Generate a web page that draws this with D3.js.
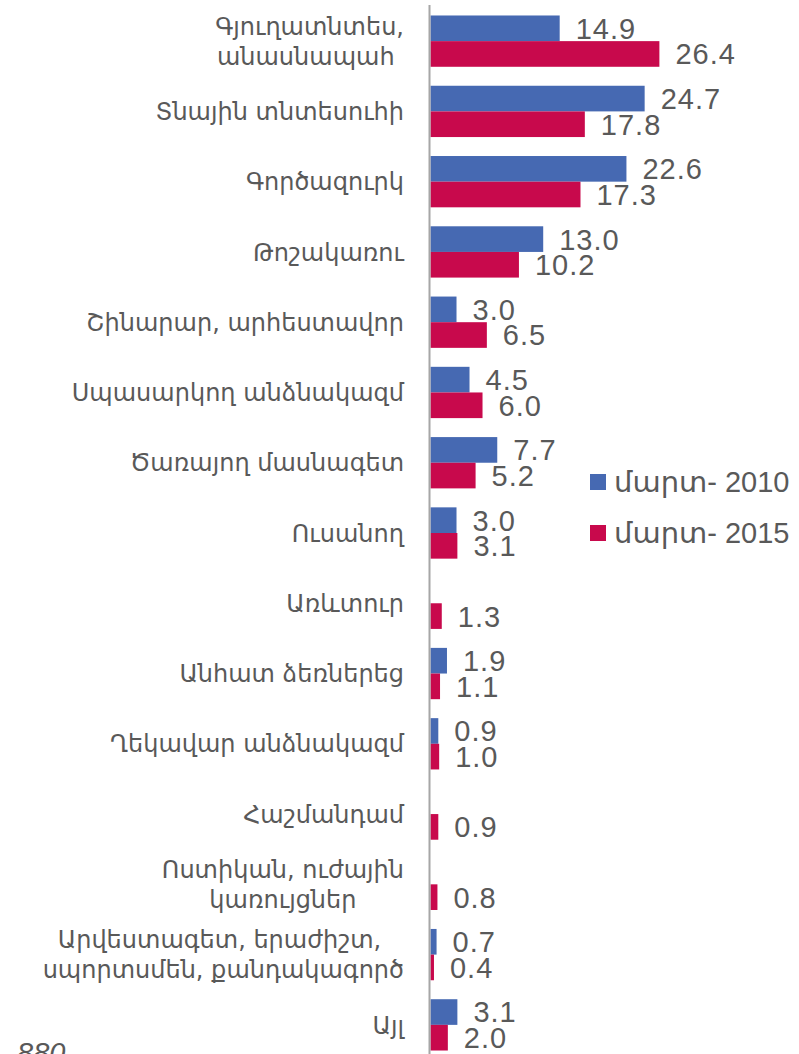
<!DOCTYPE html>
<html>
<head>
<meta charset="utf-8">
<script src="https://cdn.jsdelivr.net/npm/d3@7"></script>
<style>
  body { margin: 0; background: #fff; }
  svg { display: block; }
  .cat { font-family: "DejaVu Sans", sans-serif; font-size: 24px; fill: #595959; white-space: pre; }
  .val { font-family: "Liberation Sans", Arial, sans-serif; font-size: 29px; fill: #595959; }
  .leg { font-family: "Liberation Sans", "DejaVu Sans", sans-serif; font-size: 29px; fill: #595959; }
</style>
</head>
<body>
<svg id="chart" width="799" height="1054"></svg>
<script>
"use strict";

// categories, one entry per line of the label
var categories = [
  ["Գյուղատնտես,", "անասնապահ "],
  ["Տնային տնտեսուհի"],
  ["Գործազուրկ"],
  ["Թոշակառու"],
  ["Շինարար, արհեստավոր"],
  ["Սպասարկող անձնակազմ"],
  ["Ծառայող մասնագետ"],
  ["Ուսանող"],
  ["Առևտուր"],
  ["Անհատ ձեռներեց"],
  ["Ղեկավար անձնակազմ"],
  ["Հաշմանդամ"],
  ["Ոստիկան, ուժային", "կառույցներ"],
  ["Արվեստագետ, երաժիշտ, ", "սպորտսմեն, քանդակագործ"],
  ["Այլ"]
];
var values2010 = [14.9, 24.7, 22.6, 13.0, 3.0, 4.5, 7.7, 3.0, null, 1.9, 0.9, null, null, 0.7, 3.1];
var values2015 = [26.4, 17.8, 17.3, 10.2, 6.5, 6.0, 5.2, 3.1, 1.3, 1.1, 1.0, 0.9, 0.8, 0.4, 2.0];
var seriesNames = ["մարտ- 2010", "մարտ- 2015"];
var colors = ["#4669b2", "#c8094c"];

var svg = d3.select('#chart');
var x0 = 430.5;
var x = d3.scaleLinear().domain([0, 30]).range([x0, x0 + 30 * 8.67]);
var y = d3.scaleBand().domain(d3.range(categories.length)).range([6, 1060]).paddingInner(0.27).paddingOuter(0.135);
var sub = d3.scaleBand().domain([0, 1]).range([0, y.bandwidth()]);

var series = [values2010, values2015];

series.forEach(function(vals, s) {
  var g = svg.append('g');
  var items = vals.map(function(v, i) { return {v: v, i: i}; }).filter(function(d) { return d.v !== null; });
  g.selectAll('rect').data(items).enter().append('rect')
    .attr('x', x0)
    .attr('y', function(d) { return y(d.i) + sub(s); })
    .attr('width', function(d) { return x(d.v) - x0; })
    .attr('height', sub.bandwidth())
    .attr('fill', colors[s]);
  g.selectAll('text').data(items).enter().append('text')
    .attr('class', 'val')
    .attr('x', function(d) { return x(d.v) + 16; })
    .attr('y', function(d) { return y(d.i) + sub(s) + sub.bandwidth() / 2; })
    .attr('dy', '0.36em')
    .attr('letter-spacing', 1)
    .text(function(d) { return d.v.toFixed(1); });
});

// axis line
svg.append('line')
  .attr('x1', x0 - 1).attr('x2', x0 - 1)
  .attr('y1', 5).attr('y2', 1054)
  .attr('stroke', '#a6a6a6').attr('stroke-width', 2);

// category labels
var labelRight = 404;
categories.forEach(function(lines, i) {
  var cy = y(i) + y.bandwidth() / 2;
  var lh = 30;
  var t = svg.append('text').attr('class', 'cat');
  lines.forEach(function(line, k) {
    t.append('tspan')
      .attr('y', cy + (k - (lines.length - 1) / 2) * lh)
      .attr('dy', '0.36em')
      .text(line);
  });
  if (lines.length === 1) {
    t.attr('text-anchor', 'end').selectAll('tspan').attr('x', labelRight);
  } else {
    var w = 0;
    t.selectAll('tspan').each(function() { w = Math.max(w, this.getComputedTextLength()); });
    t.attr('text-anchor', 'middle').selectAll('tspan').attr('x', labelRight - w / 2);
  }
});

// legend
var legend = svg.append('g');
seriesNames.forEach(function(name, s) {
  legend.append('rect')
    .attr('x', 590).attr('y', 474 + s * 51)
    .attr('width', 16).attr('height', 16)
    .attr('fill', colors[s]);
  legend.append('text')
    .attr('class', 'leg')
    .attr('x', 614).attr('y', 482 + s * 51)
    .attr('dy', '0.36em')
    .text(name);
});

// source note, cut off at the bottom edge
svg.append('text')
  .attr('x', 17).attr('y', 1063)
  .style('font-family', '"Liberation Sans", sans-serif')
  .style('font-style', 'italic')
  .style('font-size', '29px')
  .attr('fill', '#595959')
  .text('880');
</script>
</body>
</html>
